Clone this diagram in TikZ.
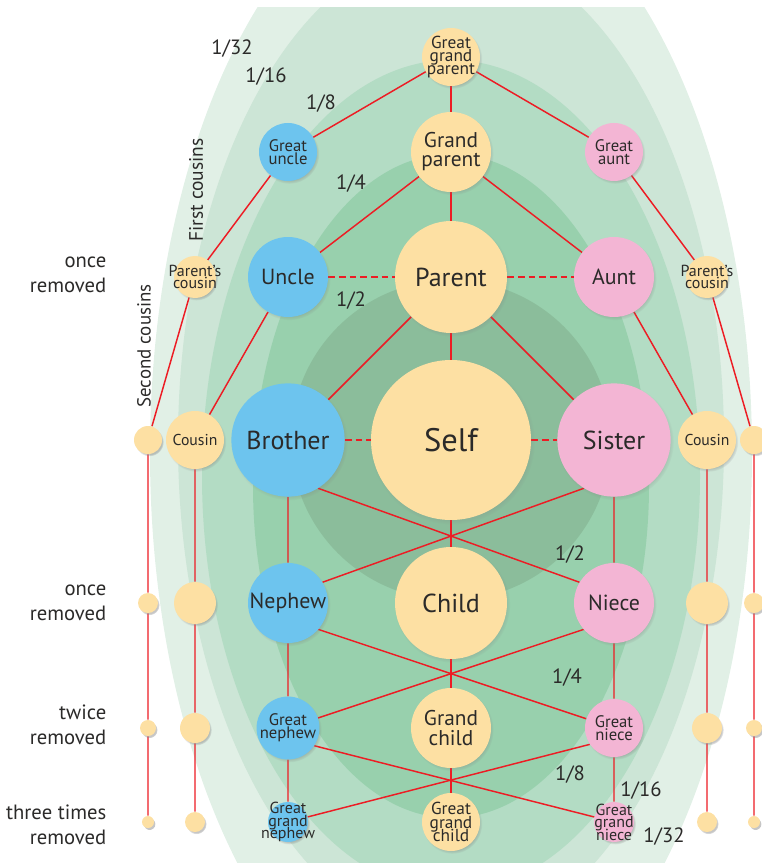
\documentclass[tikz,border=0pt]{standalone}
\usepackage{fontspec}
\setmainfont{PT Sans}
\usetikzlibrary{shadows}
\definecolor{ink}{HTML}{2B2A29}
\definecolor{linkred}{HTML}{ED1C24}
\definecolor{sun}{HTML}{FDE0A3}
\definecolor{sky}{HTML}{6DC4EE}
\definecolor{rose}{HTML}{F3B5D4}
\definecolor{bandA}{HTML}{E1F0E6}
\definecolor{bandB}{HTML}{CCE5D6}
\definecolor{bandC}{HTML}{B3DCC4}
\definecolor{bandD}{HTML}{98D0AD}
\definecolor{bandE}{HTML}{8BBD9B}
\pgfdeclarelayer{bands}
\pgfdeclarelayer{links}
\pgfsetlayers{bands,links,main}
\setlength{\lineskiplimit}{-20pt}

\begin{document}
\begin{tikzpicture}[
  x=0.75pt, y=-0.75pt,
  person/.style={circle, inner sep=0pt, align=center, text=ink,
                 circular drop shadow={shadow scale=1.03, shadow xshift=1pt,
                 shadow yshift=-1.4pt, opacity=.45}},
  he/.style={person, fill=sky},
  she/.style={person, fill=rose},
  kin/.style={person, fill=sun},
  sz/.style={minimum size=#1},
  snug/.style={inner sep=-#1},
  link/.style={draw=linkred, line width=1.1pt},
  tie/.style={link, dash pattern=on 5pt off 3pt},
  frac/.style={text=ink, font=\fontsize{15.5}{15.5}\selectfont},
  side/.style={text=ink, align=right, anchor=east,
               font=\fontsize{15.5}{18.8}\selectfont}
]
\useasboundingbox (0,0) rectangle (762,863);

\begin{pgfonlayer}{bands}
  \clip (0,8) rectangle (762,863);
  \fill[bandA] (451,453) ellipse [x radius=301, y radius=582];
  \fill[bandB] (451,442) ellipse [x radius=273, y radius=495];
  \fill[bandC] (451,476) ellipse [x radius=249, y radius=416];
  \fill[bandD] (451,486) ellipse [x radius=198, y radius=332];
  \fill[bandE] (451,440) circle [radius=160];
\end{pgfonlayer}

% direct line
\node[kin, sz=43.5pt, snug=3pt, font=\fontsize{13}{10}\selectfont] (ggp) at (451,57) {Great\\grand\\parent};
\node[kin, sz=60pt, font=\fontsize{16}{14.3}\selectfont] (gp) at (451,152) {Grand\\parent};
\node[kin, sz=84pt, font=\fontsize{19.5}{19.5}\selectfont] (parent) at (451,277) {Parent};
\node[kin, sz=120pt, font=\fontsize{24.4}{24.4}\selectfont] (self) at (451,440) {Self};
\node[kin, sz=84pt, font=\fontsize{19.5}{19.5}\selectfont] (child) at (451,603) {Child};
\node[kin, sz=60pt, font=\fontsize{16}{14.3}\selectfont] (gc) at (451,728) {Grand\\child};
\node[kin, sz=43.5pt, snug=3pt, font=\fontsize{13}{10}\selectfont] (ggc) at (451,822) {Great\\grand\\child};

% left branch
\node[he, sz=43.5pt, font=\fontsize{12.5}{9.8}\selectfont] (guncle) at (288,152) {Great\\uncle};
\node[he, sz=60pt, font=\fontsize{16.4}{16.4}\selectfont] (uncle) at (288,277) {Uncle};
\node[he, sz=85pt, font=\fontsize{19.5}{19.5}\selectfont] (brother) at (288,440) {Brother};
\node[he, sz=60pt, font=\fontsize{16.4}{16.4}\selectfont] (nephew) at (288,603) {Nephew};
\node[he, sz=43.5pt, font=\fontsize{12.5}{9.8}\selectfont] (gnephew) at (288,728) {Great\\nephew};
\node[he, sz=30pt, snug=8pt, font=\fontsize{12}{9.4}\selectfont] (ggnephew) at (288,822) {Great\\grand\\nephew};

% right branch
\node[she, sz=43.5pt, font=\fontsize{12.5}{9.8}\selectfont] (gaunt) at (614,152) {Great\\aunt};
\node[she, sz=60pt, font=\fontsize{16.4}{16.4}\selectfont] (aunt) at (614,277) {Aunt};
\node[she, sz=85pt, font=\fontsize{19.5}{19.5}\selectfont] (sister) at (614,440) {Sister};
\node[she, sz=60pt, font=\fontsize{16.4}{16.4}\selectfont] (niece) at (614,603) {Niece};
\node[she, sz=43.5pt, font=\fontsize{12.5}{9.8}\selectfont] (gniece) at (614,728) {Great\\niece};
\node[she, sz=30pt, snug=8pt, font=\fontsize{12}{9.4}\selectfont] (ggniece) at (614,822) {Great\\grand\\niece};

% cousins
\foreach \s/\cx/\sx in {L/195/148, R/707/754} {
  \node[kin, sz=31.5pt, snug=7pt, font=\fontsize{12}{9}\selectfont] (pcous\s) at (\cx,277) {Parent’s\\cousin};
  \node[kin, sz=43.5pt, font=\fontsize{11.8}{11.8}\selectfont] (cous\s) at (\cx,440) {Cousin};
  \node[kin, sz=31.5pt] (cous\s1) at (\cx,603) {};
  \node[kin, sz=22.5pt] (cous\s2) at (\cx,728) {};
  \node[kin, sz=15pt] (cous\s3) at (\cx,822) {};
  \node[kin, sz=21pt] (scous\s) at (\sx,440) {};
  \node[kin, sz=15pt] (scous\s1) at (\sx,603) {};
  \node[kin, sz=12pt] (scous\s2) at (\sx,728) {};
  \node[kin, sz=9pt] (scous\s3) at (\sx,822) {};
}

\begin{pgfonlayer}{links}
  \draw[link] (ggp) -- (gp) -- (parent) -- (self) -- (child) -- (gc) -- (ggc);
  \draw[link] (ggp) -- (guncle) -- (pcousL) -- (scousL) -- (scousL1) -- (scousL2) -- (scousL3);
  \draw[link] (ggp) -- (gaunt) -- (pcousR) -- (scousR) -- (scousR1) -- (scousR2) -- (scousR3);
  \draw[link] (gp) -- (uncle) -- (cousL) -- (cousL1) -- (cousL2) -- (cousL3);
  \draw[link] (gp) -- (aunt) -- (cousR) -- (cousR1) -- (cousR2) -- (cousR3);
  \draw[link] (parent) -- (brother) -- (nephew) -- (gnephew) -- (ggnephew);
  \draw[link] (parent) -- (sister) -- (niece) -- (gniece) -- (ggniece);
  \draw[link] (brother.-58) -- (niece.149);
  \draw[link] (sister.238) -- (nephew.31);
  \draw[link] (nephew.-41) -- (gniece);
  \draw[link] (niece.221) -- (gnephew);
  \draw[link] (gnephew.-34) -- (ggniece);
  \draw[link] (gniece.214) -- (ggnephew);
  \draw[tie] (uncle) -- (parent) -- (aunt);
  \draw[tie] (brother) -- (self) -- (sister);
\end{pgfonlayer}

% degrees of relationship
\node[frac] (f32a) at (232,49) {1/32};
\node[frac] (f16a) at (266,77) {1/16};
\node[frac] (f8a) at (321,104) {1/8};
\node[frac] (f4a) at (351,184) {1/4};
\node[frac] (f2a) at (351,301) {1/2};
\node[frac] (f2b) at (570,555) {1/2};
\node[frac] (f4b) at (567,678) {1/4};
\node[frac] (f8b) at (570,775) {1/8};
\node[frac] (f16b) at (641,791) {1/16};
\node[frac] (f32b) at (664,837) {1/32};

\node[text=ink, rotate=90, font=\fontsize{14.6}{14.6}\selectfont] (first) at (196,190) {First cousins};
\node[text=ink, rotate=90, font=\fontsize{14.2}{14.2}\selectfont] (second) at (144,346) {Second cousins};

\node[side] (rem1a) at (111,275) {once\\removed};
\node[side] (rem1b) at (111,603) {once\\removed};
\node[side] (rem2) at (111,725) {twice\\removed};
\node[side] (rem3) at (111,825) {three times\\removed};
\end{tikzpicture}
\end{document}
